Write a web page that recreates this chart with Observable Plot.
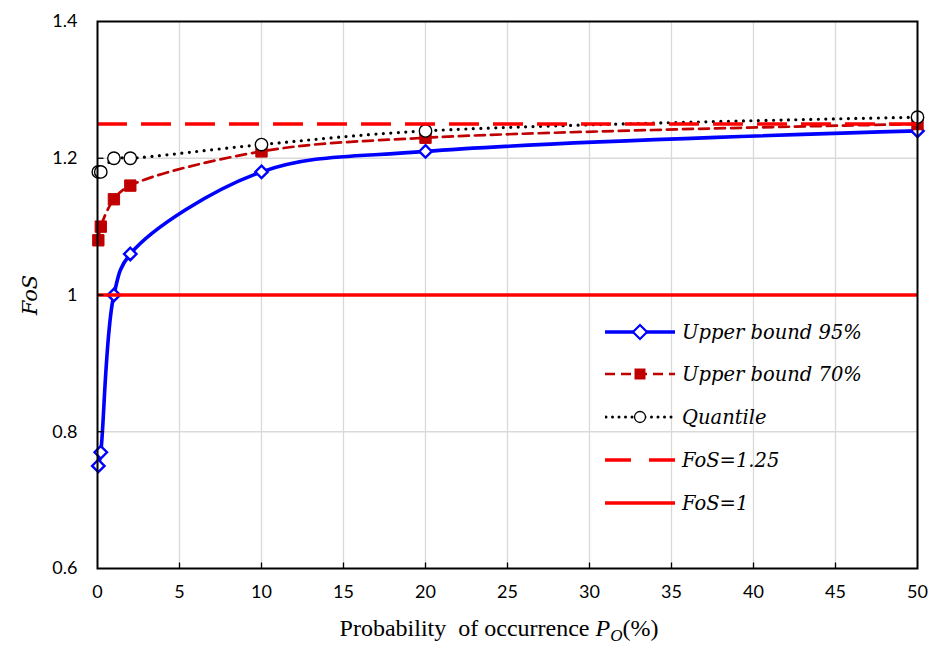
<!DOCTYPE html>
<html><head><meta charset="utf-8">
<script src="https://cdn.jsdelivr.net/npm/d3@7"></script>
<script src="https://cdn.jsdelivr.net/npm/@observablehq/plot@0.6"></script>
<style>
body{margin:0;background:#fff;}
#wrap{position:relative;width:931px;height:648px;overflow:hidden;}
#ylab{position:absolute;left:30px;top:295px;transform:translate(-50%,-50%) rotate(-90deg);font-family:"DejaVu Serif";font-style:italic;font-size:21px;white-space:nowrap;color:#000;}
#xlab{position:absolute;left:499px;top:630px;transform:translate(-50%,-50%);font-family:"Liberation Serif";font-size:24px;white-space:pre;color:#000;}
#xlab i{font-style:italic;}
#xlab sub{font-size:17px;font-style:italic;vertical-align:-5px;}
.leg{position:absolute;left:605px;height:30px;display:flex;align-items:center;transform:translateY(-50%);}
.leg span{margin-left:7px;font-family:"DejaVu Serif";font-style:italic;font-size:19.5px;white-space:nowrap;color:#000;}
</style></head>
<body><div id="wrap"></div>
<script>
// ---- data ----
const probability = [0.05, 0.2, 1, 2, 10, 20, 50];
const upper95 = [0.75, 0.77, 1.00, 1.06, 1.18, 1.21, 1.24];
const upper70 = [1.08, 1.10, 1.14, 1.16, 1.21, 1.23, 1.25];
const quantile = [1.18, 1.18, 1.20, 1.20, 1.22, 1.24, 1.26];
const fosLevels = [1.25, 1];
const xTicks = [0, 5, 10, 15, 20, 25, 30, 35, 40, 45, 50];
const yTicks = [0.6, 0.8, 1, 1.2, 1.4];
const legendLabels = ["Upper bound 95%", "Upper bound 70%", "Quantile", "FoS=1.25", "FoS=1"];

const rows95 = probability.map((p, i) => ({p, v: upper95[i]}));
const rows70 = probability.map((p, i) => ({p, v: upper70[i]}));
const rowsQ = probability.map((p, i) => ({p, v: quantile[i]}));

const tickUp = {draw(ctx) { ctx.moveTo(0, 0); ctx.lineTo(0, -6); }};
const tickRight = {draw(ctx) { ctx.moveTo(0, 0); ctx.lineTo(6, 0); }};

const blue = "#0000FF", dark = "#C00000", red = "#FF0000";

const chart = Plot.plot({
  width: 931, height: 648,
  marginLeft: 97, marginRight: 14, marginTop: 21, marginBottom: 80,
  style: {fontFamily: "Lato", fontSize: "18px", color: "#000", background: "#fff"},
  x: {domain: [0, 50], ticks: xTicks, tickSize: 0, tickPadding: 17, tickFormat: d => String(d), label: null},
  y: {domain: [0.6, 1.4], ticks: yTicks, tickSize: 0, tickPadding: 20, tickFormat: d => String(d), label: null},
  marks: [
    Plot.ruleX(xTicks.slice(1, -1), {stroke: "#d9d9d9", strokeWidth: 1.3}),
    Plot.ruleY(yTicks.slice(1, -1), {stroke: "#d9d9d9", strokeWidth: 1.3}),
    Plot.line(rows95, {x: "p", y: "v", stroke: blue, strokeWidth: 3.6, curve: "catmull-rom"}),
    Plot.line(rows70, {x: "p", y: "v", stroke: dark, strokeWidth: 2.7, strokeDasharray: "10,6", curve: "catmull-rom"}),
    Plot.line(rowsQ, {x: "p", y: "v", stroke: "#000", strokeWidth: 3.2, strokeDasharray: "0,7.5", strokeLinecap: "round", curve: "catmull-rom"}),
    Plot.dot(rows95, {x: "p", y: "v", symbol: "diamond2", r: 5.6, fill: "#fff", stroke: blue, strokeWidth: 2.4}),
    Plot.dot(rows70, {x: "p", y: "v", symbol: "square", r: 6.4, fill: dark, stroke: dark, strokeWidth: 1}),
    Plot.dot(rowsQ, {x: "p", y: "v", symbol: "circle", r: 6.2, fill: "#fff", stroke: "#000", strokeWidth: 1.4}),
    Plot.ruleY([fosLevels[0]], {stroke: red, strokeWidth: 3.5, strokeDasharray: "30,14"}),
    Plot.ruleY([fosLevels[1]], {stroke: red, strokeWidth: 3.5}),
    Plot.frame({stroke: "#000", strokeWidth: 2}),
    Plot.dot(xTicks.slice(1, -1), {x: d => d, y: () => 0.6, symbol: tickUp, stroke: "#000", fill: "none", strokeWidth: 1.3}),
    Plot.dot(yTicks.slice(1, -1), {x: () => 0, y: d => d, symbol: tickRight, stroke: "#000", fill: "none", strokeWidth: 1.3})
  ]
});
const wrap = document.getElementById("wrap");
wrap.appendChild(chart);

const ylab = document.createElement("div");
ylab.id = "ylab"; ylab.textContent = "FoS";
wrap.appendChild(ylab);
const xlab = document.createElement("div");
xlab.id = "xlab";
xlab.innerHTML = "Probability  of occurrence <i>P</i><sub>O</sub>(%)";
wrap.appendChild(xlab);

// legend swatches
const swatches = [
  `<line x1="0" y1="15" x2="70" y2="15" stroke="${blue}" stroke-width="3.5"/><path d="M35,8 L42,15 L35,22 L28,15 Z" fill="#fff" stroke="${blue}" stroke-width="2.2"/>`,
  `<line x1="0" y1="15" x2="70" y2="15" stroke="${dark}" stroke-width="2.7" stroke-dasharray="10,6"/><rect x="29.5" y="9.5" width="11" height="11" fill="${dark}"/>`,
  `<line x1="1" y1="15" x2="70" y2="15" stroke="#000" stroke-width="3" stroke-dasharray="0,6.5" stroke-linecap="round"/><circle cx="35" cy="15" r="5.5" fill="#fff" stroke="#000" stroke-width="1.3"/>`,
  `<line x1="0" y1="15" x2="70" y2="15" stroke="${red}" stroke-width="3.5" stroke-dasharray="26,18"/>`,
  `<line x1="0" y1="15" x2="70" y2="15" stroke="${red}" stroke-width="3.5"/>`
];
const legendY = [332, 374, 417, 460, 503];
legendLabels.forEach((t, i) => {
  const d = document.createElement("div");
  d.className = "leg";
  d.style.top = legendY[i] + "px";
  d.innerHTML = `<svg width="70" height="30">${swatches[i]}</svg><span>${t}</span>`;
  wrap.appendChild(d);
});
</script>
</body></html>
